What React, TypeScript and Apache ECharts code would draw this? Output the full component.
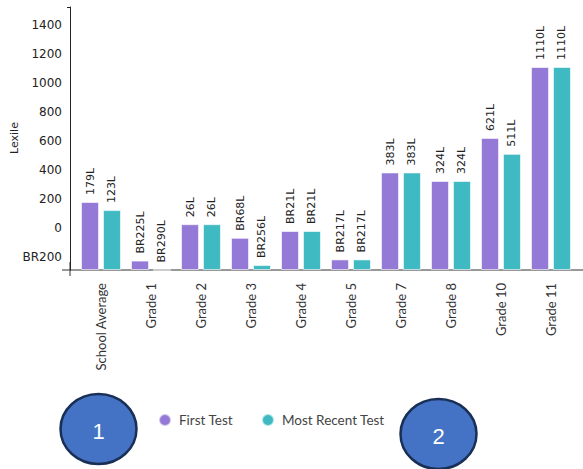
import React, { useEffect, useRef } from "react";
import * as echarts from "echarts";

const categories = ["School Average", "Grade 1", "Grade 2", "Grade 3", "Grade 4", "Grade 5", "Grade 7", "Grade 8", "Grade 10", "Grade 11"];
const firstTest = [179, -225, 26, -68, -21, -217, 383, 324, 621, 1110];
const mostRecentTest = [123, -290, 26, -256, -21, -217, 383, 324, 511, 1110];
const yTickValues = [-200, 0, 200, 400, 600, 800, 1000, 1200, 1400];
const axisMin = -290;
const axisMax = 1524;

const PURPLE = "#9479d6";
const TEAL = "#3fbac2";

const lexile = (v: number) => (v < 0 ? "BR" + -v : String(v));

export default function App() {
  const ref = useRef<HTMLDivElement>(null);
  useEffect(() => {
    const chart = echarts.init(ref.current!, null, { renderer: "svg" });
    const shift = (arr: number[]) => arr.map((v) => v - axisMin);
    const barLabel = (src: number[]) => ({
      show: true,
      position: "top" as const,
      rotate: 90,
      align: "left" as const,
      verticalAlign: "middle" as const,
      distance: 7,
      fontFamily: "DejaVu Sans",
      fontSize: 11,
      color: "#222",
      formatter: (p: any) => lexile(src[p.dataIndex]) + "L",
    });
    chart.setOption({
      animation: false,
      grid: { left: 76, right: 7, top: 7, bottom: 199, containLabel: false },
      legend: {
        data: ["First Test", "Most Recent Test"],
        left: 153,
        top: 408,
        icon: "circle",
        itemWidth: 12,
        itemHeight: 12,
        itemGap: 28,
        textStyle: { fontFamily: "Lato", fontSize: 13.5, color: "#444", padding: [0, 0, 0, 3] },
      },
      xAxis: {
        type: "category",
        data: categories,
        axisLine: { show: false },
        axisTick: { show: false },
        axisLabel: {
          rotate: 90,
          interval: 0,
          margin: 13,
          fontFamily: "Lato",
          fontSize: 13,
          color: "#333",
        },
      },
      yAxis: {
        type: "value",
        min: 0,
        max: axisMax - axisMin,
        offset: 6,
        splitLine: { show: false },
        axisLine: { show: true, lineStyle: { color: "#222", width: 1 } },
        axisTick: {
          show: true,
          length: 3,
          customValues: [axisMax - axisMin],
          lineStyle: { color: "#222" },
        },
        axisLabel: {
          customValues: yTickValues.map((v) => v - axisMin),
          formatter: (v: number) => lexile(Math.round(v + axisMin)),
          fontFamily: "DejaVu Sans",
          fontSize: 12,
          color: "#222",
          margin: 8,
        },
      },
      graphic: [
        {
          type: "line",
          shape: { x1: 62, y1: 270, x2: 583, y2: 270 },
          style: { stroke: "#333", lineWidth: 1 },
        },
        {
          type: "line",
          shape: { x1: 70, y1: 262, x2: 70, y2: 276 },
          style: { stroke: "#333", lineWidth: 1 },
        },
        {
          type: "text",
          x: 14,
          y: 138,
          rotation: Math.PI / 2,
          style: {
            text: "Lexile",
            fontFamily: "DejaVu Sans",
            fontSize: 11,
            fill: "#222",
            align: "center",
            verticalAlign: "middle",
          },
        },
        {
          type: "group",
          children: [
            {
              type: "ellipse",
              shape: { cx: 98.5, cy: 429, rx: 38, ry: 35 },
              style: { fill: "#4472C4", stroke: "#1a2f55", lineWidth: 2.5 },
            },
            {
              type: "text",
              x: 98.5,
              y: 431,
              style: { text: "1", fontFamily: "Liberation Sans", fontSize: 22, fill: "#fff", align: "center", verticalAlign: "middle" },
            },
            {
              type: "ellipse",
              shape: { cx: 438.5, cy: 434, rx: 38, ry: 35 },
              style: { fill: "#4472C4", stroke: "#1a2f55", lineWidth: 2.5 },
            },
            {
              type: "text",
              x: 438.5,
              y: 436,
              style: { text: "2", fontFamily: "Liberation Sans", fontSize: 22, fill: "#fff", align: "center", verticalAlign: "middle" },
            },
          ],
        },
      ],
      series: [
        {
          name: "First Test",
          type: "bar",
          data: shift(firstTest),
          barWidth: 18,
          barGap: "22%",
          itemStyle: { color: PURPLE, borderColor: "rgba(255,255,255,0.6)", borderWidth: 1 },
          label: barLabel(firstTest),
        },
        {
          name: "Most Recent Test",
          type: "bar",
          data: shift(mostRecentTest),
          barWidth: 18,
          itemStyle: { color: TEAL, borderColor: "rgba(255,255,255,0.6)", borderWidth: 1 },
          label: barLabel(mostRecentTest),
        },
      ],
    });
    return () => chart.dispose();
  }, []);
  return <div ref={ref} style={{ width: 583, height: 469, position: "absolute", left: 0, top: 0 }} />;
}
